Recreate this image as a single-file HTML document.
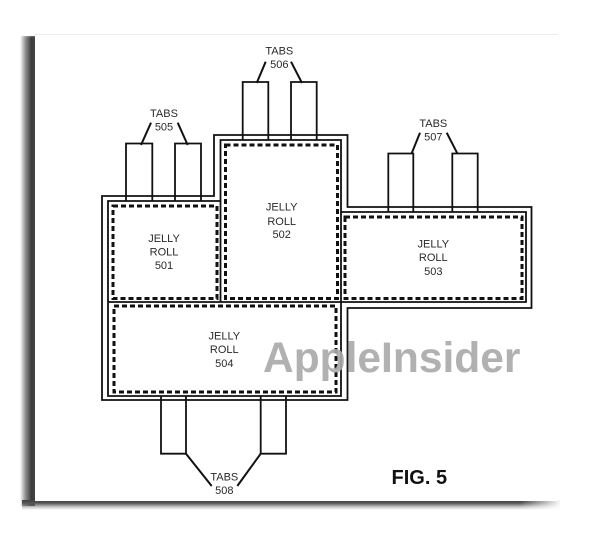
<!DOCTYPE html>
<html>
<head>
<meta charset="utf-8">
<style>
  html,body{margin:0;padding:0;background:#fff;}
  body{width:600px;height:536px;position:relative;overflow:hidden;}
  .lsh{position:absolute;left:20px;top:36px;width:15px;height:470px;
    background:linear-gradient(to right,rgba(60,60,60,0),rgba(60,60,60,0.55) 35%,#3c3c3c 75%,#444 100%);}
  .lshtop{position:absolute;left:20px;top:30px;width:15px;height:8px;
    background:linear-gradient(to bottom,rgba(255,255,255,1),rgba(255,255,255,0));}
  .bsh{position:absolute;left:22px;top:500px;width:538px;height:10px;
    background:linear-gradient(to bottom,#404040,#555 30%,rgba(120,120,120,0.4) 70%,rgba(255,255,255,0));}
  .bshfade{position:absolute;left:520px;top:498px;width:42px;height:14px;
    background:linear-gradient(to right,rgba(255,255,255,0),#fff);}
  .card{position:absolute;left:35px;top:34px;width:523px;height:466px;background:#fff;
    border-top:1px solid #ececec;}
  svg{position:absolute;left:0;top:0;}
</style>
</head>
<body>
<div class="lsh"></div>
<div class="lshtop"></div>
<div class="bsh"></div>
<div class="bshfade"></div>
<div class="card"></div>
<svg width="600" height="536" viewBox="0 0 600 536" xmlns="http://www.w3.org/2000/svg">
  <g fill="none" stroke="#111" stroke-width="1.8">
    <!-- outer boundary -->
    <polygon points="102,196 214,196 214,135 347.5,135 347.5,207 531.5,207 531.5,308 347.5,308 347.5,400 102,400"/>
    <!-- inner boundary -->
    <polygon points="108,201 220.5,201 220.5,140 341,140 341,212 526,212 526,302 341,302 341,396 108,396"/>
    <line x1="108" y1="302" x2="341" y2="302"/>
    <line x1="220.5" y1="201" x2="220.5" y2="302"/>
    <line x1="341" y1="212" x2="341" y2="302"/>
    <!-- tabs 505 -->
    <polyline points="126,201 126,143.5 152.3,143.5 152.3,201"/>
    <polyline points="175,201 175,143.5 201,143.5 201,201"/>
    <!-- tabs 506 -->
    <polyline points="242.7,140 242.7,82 268.3,82 268.3,140"/>
    <polyline points="291,140 291,82 316.7,82 316.7,140"/>
    <!-- tabs 507 -->
    <polyline points="388.3,212 388.3,153.5 413.3,153.5 413.3,212"/>
    <polyline points="452.3,212 452.3,153.5 477.7,153.5 477.7,212"/>
    <!-- tabs 508 -->
    <polyline points="161,396 161,453.7 186,453.7 186,396"/>
    <polyline points="260.7,396 260.7,453.7 286,453.7 286,396"/>
  </g>
  <!-- leaders -->
  <g stroke="#111" stroke-width="2" fill="none">
    <line x1="141" y1="145" x2="151" y2="122.7"/>
    <line x1="177.7" y1="122.7" x2="187.7" y2="145"/>
    <line x1="256.7" y1="83" x2="265.7" y2="61.7"/>
    <line x1="291" y1="61.7" x2="302" y2="83"/>
    <line x1="411.7" y1="153.3" x2="420" y2="132.7"/>
    <line x1="446.7" y1="132.7" x2="457.3" y2="153.3"/>
    <line x1="186" y1="453.7" x2="211.7" y2="486"/>
    <line x1="260.7" y1="453.7" x2="237.3" y2="486"/>
  </g>
  <!-- dashed jelly rolls -->
  <g fill="none" stroke="#111" stroke-width="3" stroke-dasharray="5 3">
    <rect x="113" y="206" width="104" height="92.5"/>
    <rect x="225.5" y="145" width="112" height="153.5"/>
    <rect x="345" y="217" width="177" height="81.5"/>
    <rect x="114" y="306" width="222" height="86"/>
  </g>
  <!-- labels -->
  <g font-family="Liberation Sans, Arial, sans-serif" font-size="11" fill="#2a2a2a" text-anchor="middle">
    <text x="164" y="242">JELLY</text>
    <text x="164" y="255.7">ROLL</text>
    <text x="164" y="269">501</text>

    <text x="281.7" y="210.7">JELLY</text>
    <text x="281.7" y="225">ROLL</text>
    <text x="281.7" y="238">502</text>

    <text x="433.3" y="247.3">JELLY</text>
    <text x="433.3" y="261">ROLL</text>
    <text x="433.3" y="275">503</text>

    <text x="224.3" y="339.3">JELLY</text>
    <text x="224.3" y="353">ROLL</text>
    <text x="224.3" y="367">504</text>

    <text x="164" y="117">TABS</text>
    <text x="164" y="130.7">505</text>

    <text x="279.3" y="54.7">TABS</text>
    <text x="279.3" y="68">506</text>

    <text x="433.3" y="127">TABS</text>
    <text x="433.3" y="140.7">507</text>

    <text x="224.3" y="480.7">TABS</text>
    <text x="224.3" y="494">508</text>
  </g>
  <text x="263" y="372" font-family="Liberation Sans, Arial, sans-serif" font-weight="bold" font-size="42.5" fill="#a9a9a9" fill-opacity="0.9">AppleInsider</text>
  <text x="391.5" y="484" font-family="Liberation Sans, Arial, sans-serif" font-weight="bold" font-size="20" fill="#111">FIG. 5</text>
</svg>
</body>
</html>
